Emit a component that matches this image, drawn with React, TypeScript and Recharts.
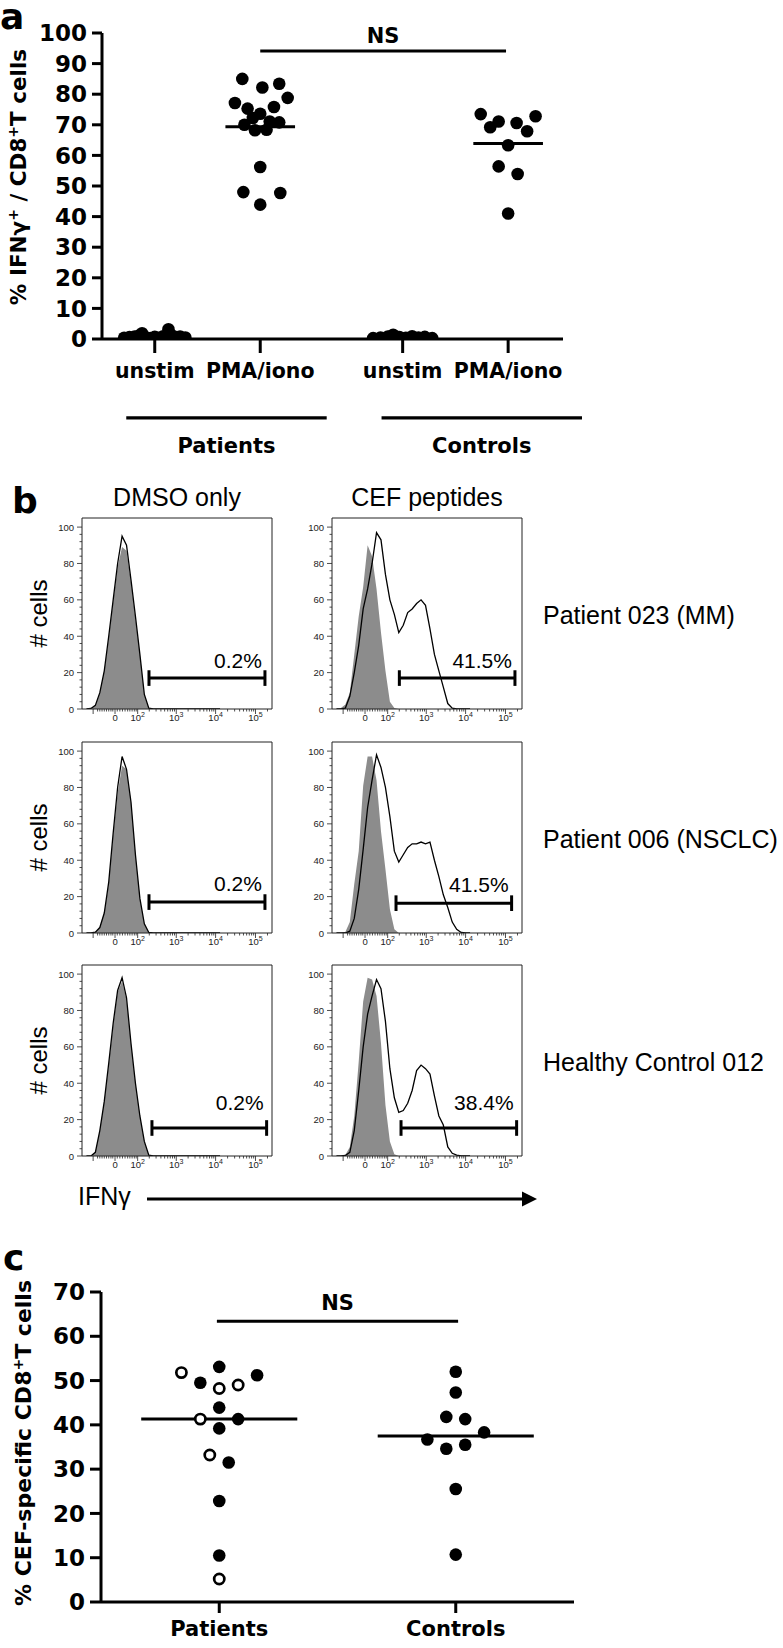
import React from 'react';
import { ScatterChart, Scatter, ComposedChart, Area, Line, XAxis, YAxis, ReferenceLine } from 'recharts';

const BOLD = '"DejaVu Sans", "Liberation Sans", sans-serif';
const SANS = '"Liberation Sans", Arial, sans-serif';

// ---------- panel a : % IFNg+ of CD8+ T cells ----------
const aCatPos = [1, 2, 3.35, 4.35];
const aCatLabels = ['unstim', 'PMA/iono', 'unstim', 'PMA/iono'];
const aGroupPos = [1.68, 4.1];
const aGroupLabels = ['Patients', 'Controls'];
const aGroupY = -25.8;
const aYTicks = [0, 10, 20, 30, 40, 50, 60, 70, 80, 90, 100];

const aPatUnstimJit = [-0.29, -0.24, -0.19, -0.15, -0.12, -0.08, -0.04, 0, 0.04, 0.08, 0.13, 0.16, 0.2, 0.24, 0.29];
const aPatUnstimVals = [0.4, 0.6, 0.8, 1.1, 1.9, 0.5, 0.3, 0.7, 0.4, 0.9, 3.2, 1.2, 0.6, 0.8, 0.5];
const aPatPmaJit = [-0.17, 0.02, 0.18, 0.26, -0.24, -0.12, 0.13, 0, -0.07, 0.09, 0.18, -0.15, -0.05, 0.06, 0, -0.16, 0.19, 0];
const aPatPmaVals = [85.0, 82.2, 83.4, 78.8, 77.1, 75.3, 75.8, 73.6, 72.2, 71.1, 70.8, 70.0, 68.2, 68.4, 56.2, 48.0, 47.7, 43.9];
const aCtrlUnstimJit = [-0.28, -0.21, -0.14, -0.09, -0.03, 0.03, 0.09, 0.15, 0.21, 0.28];
const aCtrlUnstimVals = [0.3, 0.5, 0.8, 1.4, 0.6, 0.4, 0.9, 0.5, 0.7, 0.3];
const aCtrlPmaJit = [-0.26, 0.26, -0.09, -0.17, 0.08, 0.18, 0, -0.09, 0.09, 0];
const aCtrlPmaVals = [73.5, 72.8, 71.1, 69.2, 70.6, 67.9, 63.3, 56.4, 53.9, 41.0];
const aMedians = [0.6, 69.4, 0.6, 63.9];
const aNS = { from: 2, to: 4.33, y: 94.1 };

// ---------- panel b : IFNg histograms ----------
const binChannels = [24, 48, 72, 96, 120, 144, 168, 192, 216, 240, 264, 288, 312, 336, 360, 384, 408, 432, 456, 480, 504, 528, 552, 576, 600, 624, 648, 672, 696, 720, 744];

const gray1D = [0, 0.3, 2, 9, 21, 39, 59, 78, 89, 87, 70, 50, 30, 8, 0.5, 0, 0, 0, 0, 0, 0, 0, 0, 0, 0, 0, 0, 0, 0, 0, 0];
const line1D = [0, 0.3, 2, 9, 21, 40, 60, 80, 95, 90, 71, 51, 30, 8, 0.5, 0, 0, 0, 0, 0, 0, 0, 0, 0, 0, 0, 0, 0, 0, 0, 0];
const gray1C = [0, 0.5, 2.5, 9, 30, 51, 67, 90, 84, 66, 42, 21, 4, 0.5, 0, 0, 0, 0, 0, 0, 0, 0, 0, 0, 0, 0, 0, 0, 0, 0, 0];
const line1C = [0, 0, 0.5, 7, 20, 35, 55, 66, 80, 97, 93, 74, 60, 52, 42, 46, 53, 55, 58, 60, 57, 44, 30, 21, 12, 3, 0.5, 0, 0, 0, 0];

const gray2D = [0, 0, 0.5, 3, 11, 27, 54, 77, 92, 90, 72, 43, 19, 5, 0.3, 0, 0, 0, 0, 0, 0, 0, 0, 0, 0, 0, 0, 0, 0, 0, 0];
const line2D = [0, 0, 0.5, 3, 11, 28, 55, 80, 97, 90, 72, 43, 19, 5, 0.3, 0, 0, 0, 0, 0, 0, 0, 0, 0, 0, 0, 0, 0, 0, 0, 0];
const gray2C = [0, 0, 0.5, 6, 27, 45, 81, 97, 97, 84, 56, 35, 13, 2, 0, 0, 0, 0, 0, 0, 0, 0, 0, 0, 0, 0, 0, 0, 0, 0, 0];
const line2C = [0, 0, 0, 1, 8, 24, 46, 69, 84, 98, 91, 80, 64, 45, 39, 43, 47, 49, 49, 50, 49, 50, 40, 31, 21, 14, 6, 2, 0.3, 0, 0];

const gray3D = [0, 0, 2, 14, 30, 50, 72, 90, 96, 86, 62, 40, 22, 8, 0.5, 0, 0, 0, 0, 0, 0, 0, 0, 0, 0, 0, 0, 0, 0, 0, 0];
const line3D = [0, 0, 2, 14, 30, 51, 73, 91, 98, 87, 62, 40, 22, 8, 0.5, 0, 0, 0, 0, 0, 0, 0, 0, 0, 0, 0, 0, 0, 0, 0, 0];
const gray3C = [0, 0, 0.5, 5, 22, 52, 85, 98, 97, 88, 62, 28, 8, 1, 0, 0, 0, 0, 0, 0, 0, 0, 0, 0, 0, 0, 0, 0, 0, 0, 0];
const line3C = [0, 0, 0.3, 2, 14, 36, 60, 78, 88, 97, 92, 74, 48, 32, 24, 25, 29, 36, 47, 50, 48, 45, 33, 22, 17, 5, 1.5, 0.5, 0, 0, 0];

const gateDmsoFrom = [361, 361, 377];
const gateDmsoTo = [986, 986, 995];
const gateDmsoY = [17, 17, 15.4];
const gateDmsoLabels = ['0.2%', '0.2%', '0.2%'];
const gateCefFrom = [363, 345, 372];
const gateCefTo = [986, 968, 995];
const gateCefY = [17, 16.4, 15.4];
const gateCefLabels = ['41.5%', '41.5%', '38.4%'];

const rowLabels = ['Patient 023 (MM)', 'Patient 006 (NSCLC)', 'Healthy Control 012'];
const colLabels = ['DMSO only', 'CEF peptides'];

const histYTicks = [0, 4, 8, 12, 16, 20, 24, 28, 32, 36, 40, 44, 48, 52, 56, 60, 64, 68, 72, 76, 80, 84, 88, 92, 96, 100];
const histMajor = [
  { ch: 60, base: '', exp: '' },
  { ch: 178, base: '0', exp: '' },
  { ch: 300, base: '10', exp: '2' },
  { ch: 508, base: '10', exp: '3' },
  { ch: 720, base: '10', exp: '4' },
  { ch: 935, base: '10', exp: '5' },
];
const histLowMinor = [84, 96, 108, 120, 132, 144, 156, 166, 190, 204, 218, 232, 246, 258, 270, 282, 292];
const histDecades = [300, 508, 720, 935, 1150];
const histLogMinor: number[] = [];
for (let i = 0; i < histDecades.length - 1; i++) {
  for (let k = 2; k <= 9; k++) {
    const c = histDecades[i] + (histDecades[i + 1] - histDecades[i]) * Math.log10(k);
    if (c < 1024) histLogMinor.push(c);
  }
}
const histXTicks = [...histMajor.map((m) => m.ch), ...histLowMinor, ...histLogMinor];

// ---------- panel c : % CEF-specific CD8+ T cells ----------
const cCatPos = [1, 2];
const cCatLabels = ['Patients', 'Controls'];
const cYTicks = [0, 10, 20, 30, 40, 50, 60, 70];
const cPatFilledJit = [0, -0.08, 0.16, 0, 0.08, 0, 0.04, 0, 0];
const cPatFilledVals = [53.1, 49.5, 51.2, 43.9, 41.3, 39.2, 31.5, 22.8, 10.5];
const cPatOpenJit = [-0.16, 0, 0.08, -0.08, -0.04, 0];
const cPatOpenVals = [51.8, 48.2, 49.0, 41.3, 33.2, 5.2];
const cCtrlJit = [0, 0, -0.04, 0.04, 0.12, -0.12, -0.04, 0.04, 0, 0];
const cCtrlVals = [52.0, 47.3, 41.8, 41.3, 38.3, 36.7, 34.6, 35.5, 25.5, 10.7];
const cMedians = [41.3, 37.5];
const cNS = { from: 0.99, to: 2.01, y: 63.4 };

const toPts = (center: number, jit: number[], vals: number[]) => jit.map((j, i) => ({ x: center + j, y: vals[i] }));

const filledDot = (p: any) => <circle cx={p.cx} cy={p.cy} r={6.3} fill="#000" />;
const openDot = (p: any) => <circle cx={p.cx} cy={p.cy} r={5.1} fill="#fff" stroke="#000" strokeWidth={2.7} />;

const boldTick = { fill: '#000', fontSize: 23, fontWeight: 700, fontFamily: BOLD };
const thick = { stroke: '#000', strokeWidth: 3 };

function PanelA() {
  const CatTick = (p: any) => (
    <text x={p.x} y={p.y + 25} textAnchor="middle" fontSize={20.5} fontWeight={700} fontFamily={BOLD} fill="#000">
      {aCatLabels[aCatPos.indexOf(p.payload.value)]}
    </text>
  );
  return (
    <div style={{ position: 'absolute', left: 0, top: 0 }}>
      <ScatterChart width={600} height={470} margin={{ top: 33, right: 37, bottom: 91, left: 0 }}>
        <XAxis type="number" dataKey="x" domain={[0.5, 4.87]} allowDataOverflow ticks={aCatPos} interval={0}
          height={40} axisLine={thick} tickLine={thick} tickSize={14} tickMargin={0} tick={CatTick} />
        <YAxis type="number" dataKey="y" domain={[0, 100]} allowDataOverflow ticks={aYTicks} interval={0}
          width={102} axisLine={thick} tickLine={thick} tickSize={10} tickMargin={5} tick={boldTick} />
        {aCatPos.map((c, i) => (
          <ReferenceLine key={'m' + i} segment={[{ x: c - 0.33, y: aMedians[i] }, { x: c + 0.33, y: aMedians[i] }]} stroke="#000" strokeWidth={3} />
        ))}
        <Scatter data={toPts(aCatPos[0], aPatUnstimJit, aPatUnstimVals)} shape={filledDot} isAnimationActive={false} />
        <Scatter data={toPts(aCatPos[1], aPatPmaJit, aPatPmaVals)} shape={filledDot} isAnimationActive={false} />
        <Scatter data={toPts(aCatPos[2], aCtrlUnstimJit, aCtrlUnstimVals)} shape={filledDot} isAnimationActive={false} />
        <Scatter data={toPts(aCatPos[3], aCtrlPmaJit, aCtrlPmaVals)} shape={filledDot} isAnimationActive={false} />
        <ReferenceLine segment={[{ x: aNS.from, y: aNS.y }, { x: aNS.to, y: aNS.y }]} stroke="#000" strokeWidth={3}
          label={{ value: 'NS', position: 'top', offset: 8, fill: '#000', fontSize: 21, fontWeight: 700, fontFamily: BOLD }} />
        {aGroupPos.map((g, i) => (
          <ReferenceLine key={'g' + i} ifOverflow="visible"
            segment={[{ x: g - 0.95, y: aGroupY }, { x: g + 0.95, y: aGroupY }]} stroke="#000" strokeWidth={3.3}
            label={{ value: aGroupLabels[i], position: 'bottom', offset: 20, fill: '#000', fontSize: 21, fontWeight: 700, fontFamily: BOLD }} />
        ))}
      </ScatterChart>
    </div>
  );
}

function HistXTick(p: any) {
  const v = p.payload.value;
  const major = histMajor.find((m) => m.ch === v);
  return (
    <g>
      <line x1={p.x} x2={p.x} y1={p.y} y2={p.y + (major ? 5 : 2.5)} stroke="#222" strokeWidth={0.8} />
      {major && major.base && (
        <text x={p.x} y={p.y + 12} textAnchor="middle" fontSize={9.5} fontFamily={SANS} fill="#222">
          {major.base}
          {major.exp && <tspan fontSize={7} dy={-4}>{major.exp}</tspan>}
        </text>
      )}
    </g>
  );
}

function HistYTick(p: any) {
  const v = p.payload.value;
  const major = v % 20 === 0;
  return (
    <g>
      <line x1={p.x - (major ? 5 : 2.5)} x2={p.x} y1={p.y} y2={p.y} stroke="#222" strokeWidth={0.8} />
      {major && (
        <text x={p.x - 8} y={p.y + 3.5} textAnchor="end" fontSize={9.5} fontFamily={SANS} fill="#222">{v}</text>
      )}
    </g>
  );
}

interface HistProps {
  left: number;
  top: number;
  gray: number[];
  black: number[];
  from: number;
  to: number;
  gateY: number;
  label: string;
  gap: number;
}

function Histogram({ left, top, gray, black, from, to, gateY, label, gap }: HistProps) {
  const data = binChannels.map((ch, i) => ({ ch, gray: gray[i], black: black[i] }));
  const capH = 4.3;
  return (
    <div style={{ position: 'absolute', left: left - 45, top: top - 4 }}>
      <ComposedChart width={241} height={219} data={data} margin={{ top: 4, right: 6, bottom: 0, left: 0 }}>
        <XAxis type="number" dataKey="ch" domain={[0, 1024]} allowDataOverflow ticks={histXTicks} interval={0}
          height={24} axisLine={{ stroke: '#222', strokeWidth: 1 }} tickLine={false} tickSize={0} tickMargin={0} tick={HistXTick} />
        <YAxis type="number" domain={[0, 105]} allowDataOverflow ticks={histYTicks} interval={0}
          width={45} axisLine={{ stroke: '#222', strokeWidth: 1 }} tickLine={false} tickSize={0} tickMargin={0} tick={HistYTick} />
        <ReferenceLine y={105} stroke="#222" strokeWidth={1} />
        <ReferenceLine x={1024} stroke="#222" strokeWidth={1} />
        <Area type="linear" dataKey="gray" stroke="none" fill="#8c8c8c" fillOpacity={1} isAnimationActive={false} />
        <Line type="linear" dataKey="black" stroke="#000" strokeWidth={1.3} dot={false} isAnimationActive={false} />
        <ReferenceLine segment={[{ x: from, y: gateY }, { x: to, y: gateY }]} stroke="#000" strokeWidth={3}
          label={(lp: any) => (
            <text x={lp.viewBox.x + lp.viewBox.width - 3} y={lp.viewBox.y - gap} textAnchor="end" fontSize={21} fontFamily={SANS} fill="#000">
              {label}
            </text>
          )} />
        <ReferenceLine segment={[{ x: from, y: gateY - capH }, { x: from, y: gateY + capH }]} stroke="#000" strokeWidth={3} />
        <ReferenceLine segment={[{ x: to, y: gateY - capH }, { x: to, y: gateY + capH }]} stroke="#000" strokeWidth={3} />
      </ComposedChart>
    </div>
  );
}

const rowTops = [518, 742, 965];
const colLefts = [82, 332];
const boxH = 191;
const labelGaps = [10, 11, 18];

function PanelB() {
  const grays = [[gray1D, gray1C], [gray2D, gray2C], [gray3D, gray3C]];
  const blacks = [[line1D, line1C], [line2D, line2C], [line3D, line3C]];
  return (
    <>
      {rowTops.map((top, r) => (
        <React.Fragment key={r}>
          <Histogram left={colLefts[0]} top={top} gray={grays[r][0]} black={blacks[r][0]}
            from={gateDmsoFrom[r]} to={gateDmsoTo[r]} gateY={gateDmsoY[r]} label={gateDmsoLabels[r]} gap={labelGaps[r]} />
          <Histogram left={colLefts[1]} top={top} gray={grays[r][1]} black={blacks[r][1]}
            from={gateCefFrom[r]} to={gateCefTo[r]} gateY={gateCefY[r]} label={gateCefLabels[r]} gap={labelGaps[r]} />
        </React.Fragment>
      ))}
    </>
  );
}

function PanelC() {
  const CatTick = (p: any) => (
    <text x={p.x} y={p.y + 23} textAnchor="middle" fontSize={21} fontWeight={700} fontFamily={BOLD} fill="#000">
      {cCatLabels[cCatPos.indexOf(p.payload.value)]}
    </text>
  );
  return (
    <div style={{ position: 'absolute', left: 0, top: 1250 }}>
      <ScatterChart width={604} height={398} margin={{ top: 42, right: 30, bottom: 0, left: 0 }}>
        <XAxis type="number" dataKey="x" domain={[0.5, 2.5]} allowDataOverflow ticks={cCatPos} interval={0}
          height={46} axisLine={thick} tickLine={thick} tickSize={11} tickMargin={0} tick={CatTick} />
        <YAxis type="number" dataKey="y" domain={[0, 70]} allowDataOverflow ticks={cYTicks} interval={0}
          width={101} axisLine={thick} tickLine={thick} tickSize={11} tickMargin={5} tick={boldTick} />
        {cCatPos.map((c, i) => (
          <ReferenceLine key={'m' + i} segment={[{ x: c - 0.33, y: cMedians[i] }, { x: c + 0.33, y: cMedians[i] }]} stroke="#000" strokeWidth={3} />
        ))}
        <Scatter data={toPts(cCatPos[0], cPatFilledJit, cPatFilledVals)} shape={filledDot} isAnimationActive={false} />
        <Scatter data={toPts(cCatPos[0], cPatOpenJit, cPatOpenVals)} shape={openDot} isAnimationActive={false} />
        <Scatter data={toPts(cCatPos[1], cCtrlJit, cCtrlVals)} shape={filledDot} isAnimationActive={false} />
        <ReferenceLine segment={[{ x: cNS.from, y: cNS.y }, { x: cNS.to, y: cNS.y }]} stroke="#000" strokeWidth={3}
          label={{ value: 'NS', position: 'top', offset: 11, fill: '#000', fontSize: 21, fontWeight: 700, fontFamily: BOLD }} />
      </ScatterChart>
    </div>
  );
}

const sup = (s: string) => <tspan baselineShift="super" fontSize={14}>{s}</tspan>;

function Overlay() {
  return (
    <svg width={783} height={1648} style={{ position: 'absolute', left: 0, top: 0, pointerEvents: 'none' }}>
      <g fontFamily={BOLD} fontWeight={700} fill="#000">
        <text x={0} y={29} fontSize={36}>a</text>
        <text x={12} y={513} fontSize={36}>b</text>
        <text x={3} y={1270} fontSize={36}>c</text>
        <text transform="translate(26,177) rotate(-90)" textAnchor="middle" fontSize={21.5}>
          {'% IFNγ'}{sup('+')}{' / CD8'}{sup('+')}{'T cells'}
        </text>
        <text transform="translate(31,1443) rotate(-90)" textAnchor="middle" fontSize={22}>
          {'% CEF-specific CD8'}{sup('+')}{'T cells'}
        </text>
      </g>
      <g fontFamily={SANS} fill="#000" fontSize={25}>
        {colLabels.map((t, i) => (
          <text key={t} x={colLefts[i] + 95} y={506} textAnchor="middle">{t}</text>
        ))}
        {rowTops.map((top, r) => (
          <React.Fragment key={r}>
            <text transform={`translate(47,${top + boxH / 2}) rotate(-90)`} textAnchor="middle" fontSize={24}># cells</text>
            <text x={543} y={top + 106}>{rowLabels[r]}</text>
          </React.Fragment>
        ))}
        <text x={78} y={1205}>IFNγ</text>
      </g>
      <line x1={147} x2={524} y1={1199} y2={1199} stroke="#000" strokeWidth={3} />
      <polygon points="522,1191.5 537,1199 522,1206.5" fill="#000" />
    </svg>
  );
}

export default function App() {
  return (
    <div style={{ position: 'absolute', left: 0, top: 0, width: 783, height: 1648, overflow: 'hidden', background: '#fff' }}>
      <PanelA />
      <PanelB />
      <PanelC />
      <Overlay />
    </div>
  );
}
